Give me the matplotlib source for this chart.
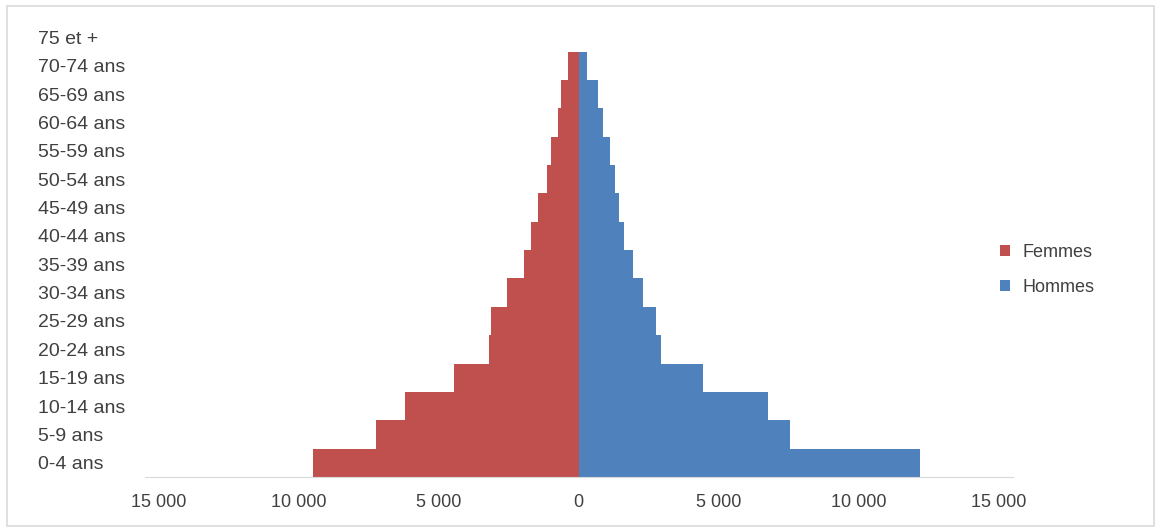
import matplotlib
matplotlib.use("Agg")
import matplotlib.pyplot as plt
from matplotlib.patches import Rectangle
from matplotlib.ticker import FixedLocator, FuncFormatter

# age groups, bottom to top
ages = ["0-4 ans", "5-9 ans", "10-14 ans", "15-19 ans", "20-24 ans",
        "25-29 ans", "30-34 ans", "35-39 ans", "40-44 ans", "45-49 ans",
        "50-54 ans", "55-59 ans", "60-64 ans", "65-69 ans", "70-74 ans",
        "75 et +"]
# left side (drawn as negative values)
femmes = [9500, 7250, 6180, 4460, 3210, 3140, 2570, 1960, 1710, 1460,
          1110, 1000, 750, 640, 390, 0]
hommes = [12210, 7570, 6750, 4460, 2930, 2750, 2290, 1960, 1610, 1430,
          1320, 1140, 890, 680, 320, 0]
xticks = [-15000, -10000, -5000, 0, 5000, 10000, 15000]

RED = "#C0504D"
BLUE = "#4F81BD"
plt.rcParams.update({"font.family": ["Liberation Sans", "DejaVu Sans"],
                     "font.size": 13})

fig = plt.figure(figsize=(11.61, 5.32), dpi=100)
ax = fig.add_axes([0.1245, 0.1034, 0.7476, 0.853])
pos = list(range(len(ages)))
ax.barh(pos, [-v for v in femmes], height=1.0, color=RED, label="Femmes")
ax.barh(pos, hommes, height=1.0, color=BLUE, label="Hommes")

ax.set_xlim(-15500, 15500)
ax.set_ylim(-0.5, 15.5)
ax.xaxis.set_major_locator(FixedLocator(xticks))
ax.xaxis.set_major_formatter(
    FuncFormatter(lambda v, p: f"{abs(int(v)):,}".replace(",", " ")))
ax.set_yticks(pos)
ax.set_yticklabels(ages, ha="left", fontsize=14)
ax.tick_params(axis="y", length=0, pad=77)
ax.tick_params(axis="x", length=0, pad=12, labelsize=13)
for s in ("top", "right", "left"):
    ax.spines[s].set_visible(False)
ax.spines["bottom"].set_color("#d9d9d9")
for t in ax.get_xticklabels() + ax.get_yticklabels():
    t.set_color("#404040")

ax.legend(loc="center left", bbox_to_anchor=(0.861, 0.4925),
          bbox_transform=fig.transFigure, frameon=False,
          borderaxespad=0, borderpad=0,
          handlelength=0.6, handleheight=0.6, handletextpad=0.66,
          labelspacing=1.0, fontsize=13, labelcolor="#404040")

# chart area border
fig.patches.append(Rectangle((0.006, 0.012), 0.988, 0.976,
                             transform=fig.transFigure, fill=False,
                             edgecolor="#d9d9d9", linewidth=1.2))

fig.savefig("out.png", dpi=100)
